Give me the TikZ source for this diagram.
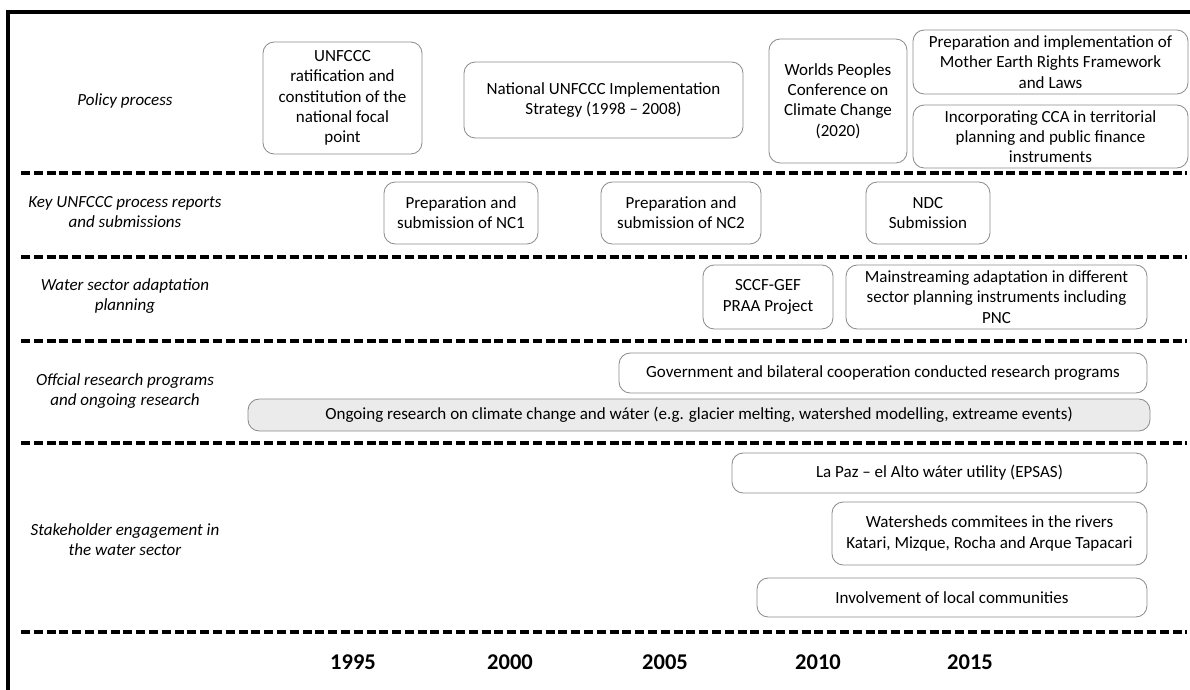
\documentclass[tikz,border=0pt]{standalone}
\usepackage{fontspec}
\setmainfont{Carlito}
\usetikzlibrary{positioning, calc}

\tikzset{
  box/.style={draw=black!45, line width=0.6pt, rounded corners=8pt},
  rowsep/.style={line width=2.6pt, dash pattern=on 6.4pt off 2.7pt},
  rowlabel/.style={font=\fontsize{12.1}{14.4}\selectfont\itshape, align=center},
  boxtext/.style={font=\fontsize{12.1}{14.4}\selectfont, align=center},
  yearlabel/.style={font=\fontsize{16}{18}\selectfont\bfseries}
}

\begin{document}
\begin{tikzpicture}[x=0.025cm, y=-0.025cm]
                \useasboundingbox (0,0) rectangle (1190,690);
                \draw[line width=2.3pt] (8,690) -- (8,12) -- (1190,12);

                % row separators
                \draw[rowsep] (21,173) -- (1187,173);
                \draw[rowsep] (21,257) -- (1187,257);
                \draw[rowsep] (21,341) -- (1187,341);
                \draw[rowsep] (21,443) -- (1187,443);
                \draw[rowsep] (21,632) -- (1187,632);

                % row titles
                \node[rowlabel] (policy) at (125,101) {Policy process};
                \node[rowlabel] (reports) at (125,212) {Key UNFCCC process reports\\and submissions};
                \node[rowlabel] (water) at (125,296) {Water sector adaptation\\planning};
                \node[rowlabel] (research) at (125,391) {Offcial research programs\\and ongoing research};
                \node[rowlabel] (stake) at (125,540) {Stakeholder engagement in\\the water sector};

                % policy process
                \draw[box] (263,42) rectangle (422,154) node[midway, boxtext] (ratif) {UNFCCC\\ratification and\\constitution of the\\national focal\\point};
                \draw[box] (464,62) rectangle (743,138) node[midway, boxtext] (natstrat) {National UNFCCC Implementation\\Strategy (1998 -- 2008)};
                \draw[box] (769,39) rectangle (907,163) node[midway, boxtext] (wpcc) {Worlds Peoples\\Conference on\\Climate Change\\(2020)};
                \draw[box] (913,30) rectangle (1188,94) node[midway, boxtext] (mother) {Preparation and implementation of\\Mother Earth Rights Framework\\and Laws};
                \draw[box] (913,105) rectangle (1188,168) node[midway, boxtext] (ccafin) {Incorporating CCA in territorial\\planning and public finance\\instruments};

                % reports and submissions
                \draw[box] (384,182) rectangle (538,244) node[midway, boxtext] (nc1) {Preparation and\\submission of NC1};
                \draw[box] (601,182) rectangle (761,244) node[midway, boxtext] (nc2) {Preparation and\\submission of NC2};
                \draw[box] (866,182) rectangle (990,244) node[midway, boxtext] (ndc) {NDC\\Submission};

                % water sector planning
                \draw[box] (703,265) rectangle (833,329) node[midway, boxtext] (sccf) {SCCF-GEF\\PRAA Project};
                \draw[box] (846,265) rectangle (1147,329) node[midway, boxtext] (mainstr) {Mainstreaming adaptation in different\\sector planning instruments including\\PNC};

                % research
                \draw[box] (619,353) rectangle (1147,393) node[midway, boxtext] (govres) {Government and bilateral cooperation conducted research programs};
                \draw[box, fill=black!8] (248,399) rectangle (1150,431) node[midway, boxtext] (ongoing) {Ongoing research on climate change and wáter (e.g. glacier melting, watershed modelling, extreame events)};

                % stakeholders
                \draw[box] (732,453) rectangle (1147,493) node[midway, boxtext] (lapaz) {La Paz -- el Alto wáter utility (EPSAS)};
                \draw[box] (832,502) rectangle (1147,565) node[midway, boxtext] (basins) {Watersheds commitees in the rivers\\Katari, Mizque, Rocha and Arque Tapacari};
                \draw[box] (757,578) rectangle (1147,617) node[midway, boxtext] (commun) {Involvement of local communities};

                % years
                \node[yearlabel] (y1995) at (353,662) {1995};
                \node[yearlabel] (y2000) at (510,662) {2000};
                \node[yearlabel] (y2005) at (665,662) {2005};
                \node[yearlabel] (y2010) at (818,662) {2010};
                \node[yearlabel] (y2015) at (970,662) {2015};
            \end{tikzpicture}
\end{document}
